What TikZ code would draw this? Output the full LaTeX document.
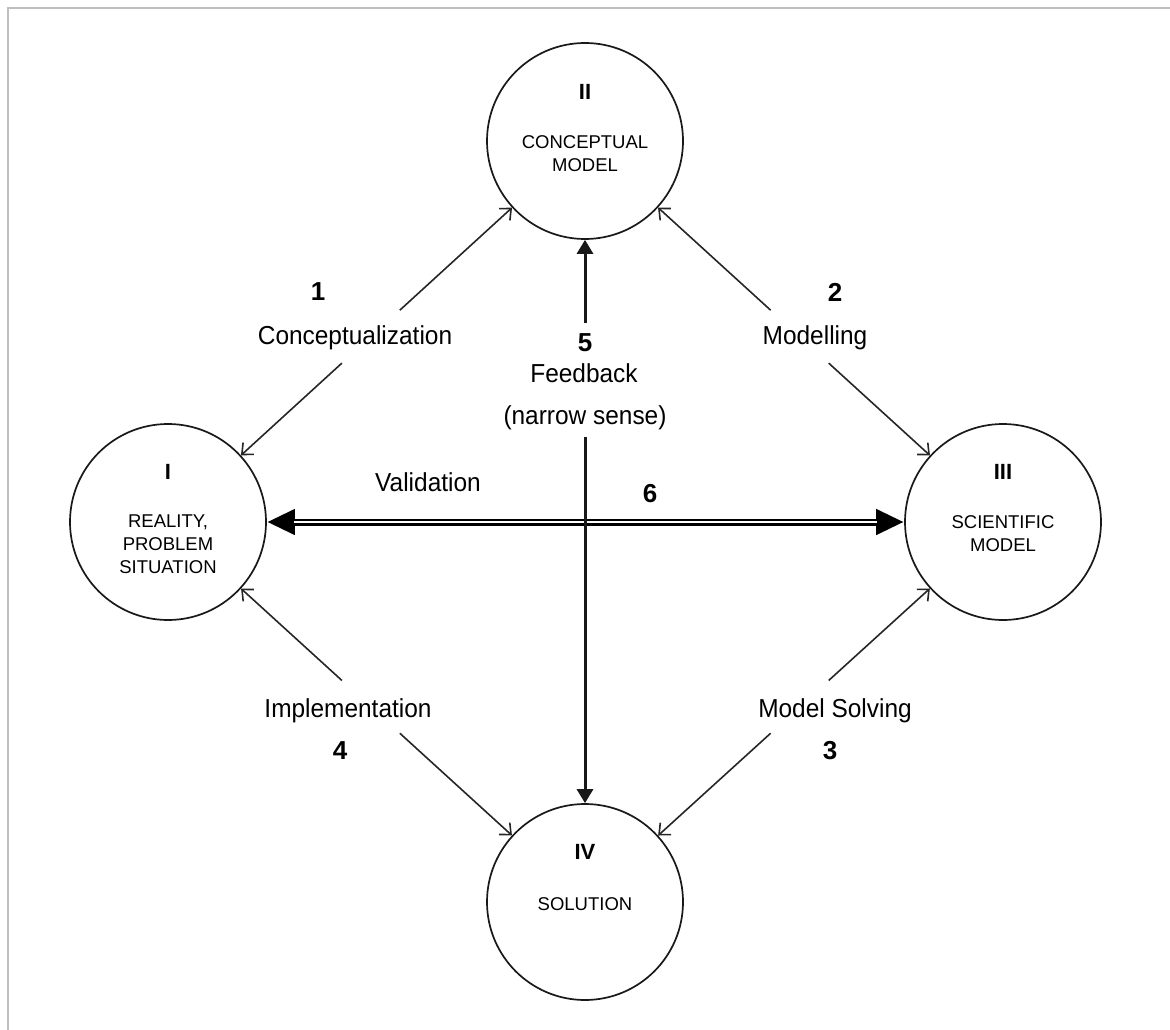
\documentclass[tikz,border=0pt]{standalone}
\usepackage{fontspec}
\setmainfont{Liberation Sans}
\newfontfamily\narrowf[FakeStretch=0.94]{Liberation Sans}
\usetikzlibrary{arrows.meta,calc}
\begin{document}
\begin{tikzpicture}[x=1pt,y=-1pt,
  stage/.style={circle,draw=black!90,line width=1.7pt,minimum size=196pt,inner sep=0pt},
  numeral/.style={font=\fontsize{22}{24}\selectfont\bfseries},
  captext/.style={font=\fontsize{18.5}{23}\selectfont,align=center,inner sep=0pt,anchor=north},
  proc/.style={font=\narrowf\fontsize{26}{30}\selectfont,inner sep=1pt},
  stepnum/.style={font=\fontsize{26}{30}\selectfont\bfseries},
  flowarrow/.style={draw=black!85,line width=1.6pt,-{Straight Barb[length=9pt,width=16pt]}},
  fbarrow/.style={draw=black!90,line width=3pt,-{Triangle[length=14pt,width=16pt]}},
]
\useasboundingbox (0,0) rectangle (1170,1030);
\fill[white] (0,0) rectangle (1170,1030);
\draw[black!25, line width=2pt] (8,1030) -- (8,8) -- (1170,8);

% stages
\node[stage] (I) at (168,522) {};
\node[stage] (II) at (585,141) {};
\node[stage] (III) at (1003,522) {};
\node[stage] (IV) at (585,902) {};

\node[numeral] (Inum) at (168,472) {I};
\node[captext] (Itxt) at (168,515) {REALITY,\\PROBLEM\\SITUATION};
\node[numeral] (IInum) at (585,92) {II};
\node[captext] (IItxt) at (585,135) {CONCEPTUAL\\MODEL};
\node[numeral] (IIInum) at (1003,472) {III};
\node[captext] (IIItxt) at (1003,515) {SCIENTIFIC\\MODEL};
\node[numeral] (IVnum) at (585,852) {IV};
\node[captext] (IVtxt) at (585,897) {SOLUTION};

% labels
\node[stepnum] (n1) at (318,292) {1};
\node[proc] (l1) at (355,338) {Conceptualization};
\node[stepnum] (n2) at (835,292) {2};
\node[proc] (l2) at (815,338) {Modelling};
\node[stepnum] (n3) at (830,751) {3};
\node[proc] (l3) at (835,711) {Model Solving};
\node[stepnum] (n4) at (340,751) {4};
\node[proc] (l4) at (348,711) {Implementation};
\node[stepnum] (n5) at (585,343) {5};
\node[proc] (l5a) at (584,373) {Feedback};
\node[proc] (l5b) at (585,418) {(narrow sense)};
\node[proc] (l6) at (428,482) {Validation};
\node[stepnum] (n6) at (650,494) {6};

% thin process arrows
\coordinate (a1u) at ($(I)!0.556!(II)$);
\coordinate (a1d) at ($(I)!0.417!(II)$);
\draw[flowarrow] (a1u) -- (II);
\draw[flowarrow] (a1d) -- (I);
\coordinate (a2u) at ($(III)!0.556!(II)$);
\coordinate (a2d) at ($(III)!0.417!(II)$);
\draw[flowarrow] (a2u) -- (II);
\draw[flowarrow] (a2d) -- (III);
\coordinate (a3u) at ($(III)!0.417!(IV)$);
\coordinate (a3d) at ($(III)!0.556!(IV)$);
\draw[flowarrow] (a3u) -- (III);
\draw[flowarrow] (a3d) -- (IV);
\coordinate (a4u) at ($(I)!0.417!(IV)$);
\coordinate (a4d) at ($(I)!0.556!(IV)$);
\draw[flowarrow] (a4u) -- (I);
\draw[flowarrow] (a4d) -- (IV);

% validation (double arrow)
\draw[black, line width=7pt, {Triangle[length=28pt,width=24pt]}-{Triangle[length=28pt,width=24pt]}] (I) -- (III);
\draw[white, line width=2.6pt, shorten <=27pt, shorten >=27pt] (I) -- (III);

% feedback
\coordinate (f5u) at (585,323);
\coordinate (f5d) at (585,437);
\draw[fbarrow] (f5u) -- (II);
\draw[fbarrow] (f5d) -- (IV);
\end{tikzpicture}
\end{document}
